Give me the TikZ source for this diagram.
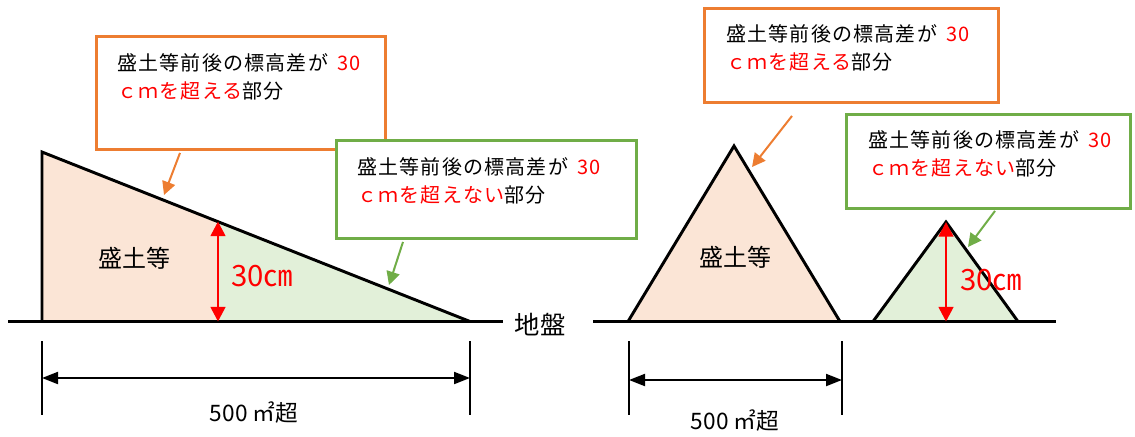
\documentclass[tikz,border=0pt]{standalone}
\usepackage{fontspec}
\setmainfont{Noto Sans CJK JP}
\newfontfamily\boxfont[LetterSpace=6]{Noto Sans CJK JP}
\usepackage{tikz}
\usetikzlibrary{shapes,arrows.meta}
\usepackage{color}
\definecolor{boxorange}{HTML}{ED7D31}
\definecolor{boxgreen}{HTML}{70AD47}
\definecolor{fillpink}{HTML}{FBE5D6}
\definecolor{fillgreen}{HTML}{E2F0D9}

\tikzset{
  callout/.style={draw=#1, line width=2.2pt, fill=white, rectangle, anchor=north west, inner sep=0pt},
  boxtext/.style={anchor=north west, align=left, inner sep=0pt, font=\boxfont\fontsize{15}{21}\selectfont},
  pointer/.style={draw=#1, line width=1.5pt, -{Triangle[length=10pt,width=10pt]}},
  mound/.style={line width=2.2pt, line join=miter},
  heightarrow/.style={red, line width=2pt, {Triangle[length=11pt,width=11pt]}-{Triangle[length=11pt,width=11pt]}},
  dimarrow/.style={line width=1.5pt, {Triangle[length=12pt,width=9pt]}-{Triangle[length=12pt,width=9pt]}},
  tick/.style={line width=1.1pt},
}

\begin{document}
\begin{tikzpicture}[x=0.75pt, y=-0.75pt]
      % Sizes
      \pgfmathsetmacro{\gy}{321.5}
      \pgfmathsetmacro{\dy}{341}
      \pgfmathsetmacro{\ey}{415}
      \useasboundingbox (0,0) rectangle (1135,436);

      % vertices
      \coordinate (A1) at (42,\gy);
      \coordinate (A2) at (42,152);
      \coordinate (A3) at (470,\gy);
      \coordinate (A4) at (218,221.5);
      \coordinate (A5) at (218,\gy);
      \coordinate (B1) at (628,\gy);
      \coordinate (B2) at (734,146);
      \coordinate (B3) at (840,\gy);
      \coordinate (C1) at (873,\gy);
      \coordinate (C2) at (946,222);
      \coordinate (C3) at (1018,\gy);
      \coordinate (C4) at (946,\gy);
      \coordinate (g1) at (8,\gy);
      \coordinate (g2) at (503,\gy);
      \coordinate (g3) at (593,\gy);
      \coordinate (g4) at (1056,\gy);

      % draw diagram
      \fill[fillpink] (A1) -- (A2) -- (A4) -- (A5) -- cycle;
      \fill[fillgreen] (A4) -- (A3) -- (A5) -- cycle;
      \draw[mound] (A1) -- (A2) -- (A3);
      \draw[mound, fill=fillpink] (B1) -- (B2) -- (B3) -- cycle;
      \draw[mound, fill=fillgreen] (C1) -- (C2) -- (C3) -- cycle;
      \draw[line width=2.2pt] (g1) -- (g2);
      \draw[line width=2.2pt] (g3) -- (g4);
      \draw[heightarrow] (A4) -- (A5);
      \draw[heightarrow] (C2) -- (C4);

      % boxes
      \node[callout=boxorange, minimum width=216.75pt, minimum height=84.75pt] (ob1) at (95,35) {};
      \node[callout=boxgreen, minimum width=225pt, minimum height=73.5pt] (gb1) at (335,139) {};
      \node[callout=boxorange, minimum width=220.5pt, minimum height=70.5pt] (ob2) at (703,7) {};
      \node[callout=boxgreen, minimum width=213pt, minimum height=70.5pt] (gb2) at (845,113) {};

      \node[boxtext] (ot1) at ([shift={(22,18)}]ob1.north west) {盛土等前後の標高差が\hspace{0.45em}\textcolor{red}{30}\\\textcolor{red}{ｃｍを超える}部分};
      \node[boxtext] (gt1) at ([shift={(22,18)}]gb1.north west) {盛土等前後の標高差が\hspace{0.45em}\textcolor{red}{30}\\\textcolor{red}{ｃｍを超えない}部分};
      \node[boxtext] (ot2) at ([shift={(23,17)}]ob2.north west) {盛土等前後の標高差が\hspace{0.45em}\textcolor{red}{30}\\\textcolor{red}{ｃｍを超える}部分};
      \node[boxtext] (gt2) at ([shift={(23,17)}]gb2.north west) {盛土等前後の標高差が\hspace{0.45em}\textcolor{red}{30}\\\textcolor{red}{ｃｍを超えない}部分};

      % pointers
      \coordinate (p1) at (164,195);
      \coordinate (p2) at (389,285);
      \coordinate (p3) at (752,167);
      \coordinate (p4) at (968,247);
      \draw[pointer=boxorange] ([shift={(85,2)}]ob1.south west) -- (p1);
      \draw[pointer=boxgreen] ([shift={(68,2)}]gb1.south west) -- (p2);
      \draw[pointer=boxorange] ([shift={(89,12)}]ob2.south west) -- (p3);
      \draw[pointer=boxgreen] ([shift={(150,1)}]gb2.south west) -- (p4);

      % dimensions
      \coordinate (d1) at (42,\dy);   \coordinate (e1) at (42,\ey);
      \coordinate (d2) at (470,\dy);  \coordinate (e2) at (470,\ey);
      \coordinate (d3) at (629,\dy);  \coordinate (e3) at (629,\ey);
      \coordinate (d4) at (842,\dy);  \coordinate (e4) at (842,\ey);
      \coordinate (m1) at (42,378);   \coordinate (m2) at (470,378);
      \coordinate (m3) at (629,380);  \coordinate (m4) at (842,380);
      \draw[tick] (d1) -- (e1);
      \draw[tick] (d2) -- (e2);
      \draw[tick] (d3) -- (e3);
      \draw[tick] (d4) -- (e4);
      \draw[dimarrow] (m1) -- (m2);
      \draw[dimarrow] (m3) -- (m4);

      % labels
      \node[font=\fontsize{18}{18}\selectfont] (fill1) at (134,258) {盛土等};
      \node[font=\fontsize{18}{18}\selectfont] (fill2) at (735,257) {盛土等};
      \node[font=\fontsize{19}{19}\selectfont] (ground) at (540,325) {地盤};
      \node[red, anchor=west, inner sep=0pt, font=\fontsize{22}{22}\selectfont] (h1) at (231,276) {30㎝};
      \node[red, anchor=west, inner sep=0pt, font=\fontsize{22}{22}\selectfont] (h2) at (960,280) {30㎝};
      \node[font=\fontsize{17}{17}\selectfont] (area1) at (254,413) {500 ㎡超};
      \node[font=\fontsize{17}{17}\selectfont] (area2) at (735,421) {500 ㎡超};
\end{tikzpicture}
\end{document}
